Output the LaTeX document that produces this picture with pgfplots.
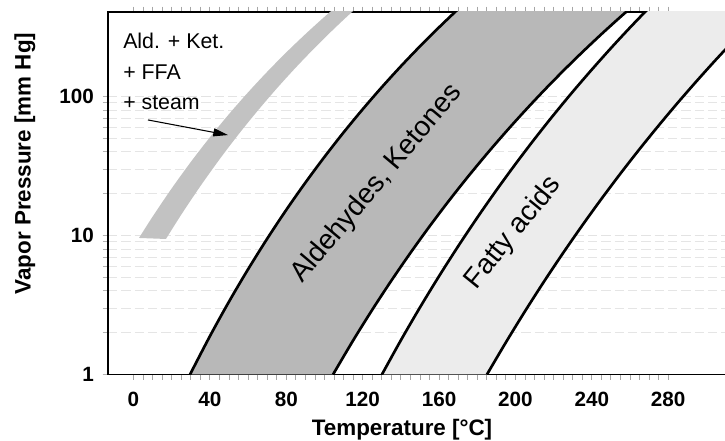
\documentclass[border=0pt]{standalone}
\usepackage{fontspec}
\setmainfont{Liberation Sans}
\usepackage{pgfplots}
\usepackage{pgfplotstable}
\pgfplotsset{compat=1.18}
\usepgfplotslibrary{fillbetween}
\usetikzlibrary{arrows.meta}

% Aldehydes/Ketones band, left boundary
\pgfplotstableread{
T p
29.6 1
40 1.885
50 3.341
60 5.713
70 9.477
80 15.28
90 23.98
100 36.75
110 55.09
120 80.86
130 116.5
140 164.9
150 229.5
160 314.5
170 425.2
180 567.2
}\aldL
% Aldehydes/Ketones band, right boundary
\pgfplotstableread{
T p
104.5 1
115 1.756
125 2.917
135 4.727
145 7.487
155 11.61
165 17.65
175 26.32
185 38.58
195 55.63
205 78.99
215 110.6
225 152.7
235 208.2
245 280.5
255 373.7
265 492.5
275 642.7
}\aldR
% Fatty acids band, left boundary
\pgfplotstableread{
T p
130.1 1
140 1.761
150 3.034
160 5.095
170 8.359
180 13.43
190 21.13
200 32.61
210 49.44
220 73.67
230 108.1
240 156.1
250 222.6
260 313.1
270 434.7
280 596.9
}\faL
% Fatty acids band, right boundary
\pgfplotstableread{
T p
185.1 1
195 1.701
205 2.847
215 4.667
225 7.493
235 11.81
245 18.30
255 27.88
265 41.82
275 61.78
285 90.08
295 129.5
305 184.0
315 257.8
325 358.0
335 491.6
345 668.0
}\faR
% Ald. + Ket. + FFA + steam band, left edge
\pgfplotstableread{
T p
2.9 9.6
10 13.66
20 21.81
30 33.78
40 50.85
50 74.69
60 107.1
70 150.5
80 207.5
90 280.8
100 374.3
110 491.3
120 635.7
}\stL
% Ald. + Ket. + FFA + steam band, right edge
\pgfplotstableread{
T p
17 9.44
25 14.11
35 22.62
45 35.22
55 53.39
65 78.91
75 114.1
85 161.6
95 224.6
105 306.8
115 412.4
125 546.1
}\stR

\definecolor{aldgray}{gray}{0.72}
\definecolor{stgray}{gray}{0.76}
\definecolor{fagray}{gray}{0.925}

\begin{document}
\begin{tikzpicture}
\begin{axis}[
  at={(0,0)}, anchor=south west,
  scale only axis, width=470.25pt, height=271.875pt,
  xmin=-13.35, xmax=315,
  ymode=log, ymin=1, ymax=405.5,
  xtick={0,40,...,280},
  minor x tick num=7,
  ytick={1,10,100}, yticklabels={1,10,100},
  tick align=outside,
  major tick length=4pt, minor tick length=4pt,
  x tick style={gray!70, line width=0.6pt},
  y tick style={gray!60, line width=0.6pt},
  minor tick style={gray!45, line width=0.5pt},
  ymajorgrids, yminorgrids,
  major grid style={gray!22, dash pattern=on 7pt off 3pt, line width=0.6pt},
  minor grid style={gray!20, dash pattern=on 7pt off 3pt, line width=0.6pt},
  axis line style={line width=1.3pt},
  ticklabel style={font=\fontsize{15.5}{17}\selectfont\bfseries},
  /pgf/number format/assume math mode=true,
  xticklabel style={yshift=-6pt},
  yticklabel style={xshift=-3pt},
  xlabel={Temperature [°C]},
  ylabel={Vapor Pressure [mm Hg]},
  label style={font=\fontsize{16.8}{19}\selectfont\bfseries},
  xlabel style={at={(axis description cs:0.469,-0.153)}, anchor=center},
  ylabel style={at={(axis description cs:-0.1324,0.582)}, anchor=center},
]
% invisible boundaries
\addplot[draw=none, smooth, name path=aL] table {\aldL};
\addplot[draw=none, smooth, name path=aR] table {\aldR};
\addplot[draw=none, smooth, name path=fL] table {\faL};
\addplot[draw=none, smooth, name path=fR] table {\faR};
\addplot[draw=none, smooth, name path=sL] table {\stL};
\addplot[draw=none, smooth, name path=sR] table {\stR};
% fills
\addplot[fill=aldgray, draw=none] fill between[of=aL and aR];
\addplot[fill=fagray, draw=none] fill between[of=fL and fR];
\addplot[fill=stgray, draw=none] fill between[of=sL and sR];
% boundary lines
\addplot[black, line width=2pt, smooth] table {\aldL};
\addplot[black, line width=2pt, smooth] table {\aldR};
\addplot[black, line width=2pt, smooth] table {\faL};
\addplot[black, line width=2pt, smooth] table {\faR};
% labels
\node[anchor=base west, inner sep=0pt, font=\fontsize{16}{18}\selectfont] at (axis cs:-5.5,223) {Ald. + Ket.};
\node[anchor=base west, inner sep=0pt, font=\fontsize{16}{18}\selectfont] at (axis cs:-5.5,131.5) {+ FFA};
\node[anchor=base west, inner sep=0pt, font=\fontsize{16}{18}\selectfont] at (axis cs:-5.5,80) {+ steam};
\draw[-{Triangle[length=11pt,width=6pt]}, line width=0.8pt] (axis cs:7.6,67.8) -- (axis cs:49.5,52.8);
\node[rotate=50, font=\fontsize{21}{23}\selectfont] at (axis cs:127.5,23.5) {Aldehydes, Ketones};
\node[rotate=51, font=\fontsize{21}{23}\selectfont] at (axis cs:199,10.4) {Fatty acids};
\end{axis}
\pgfresetboundingbox
\useasboundingbox (-81pt,-49.875pt) rectangle (462.75pt,280.875pt);
\end{tikzpicture}
\end{document}
